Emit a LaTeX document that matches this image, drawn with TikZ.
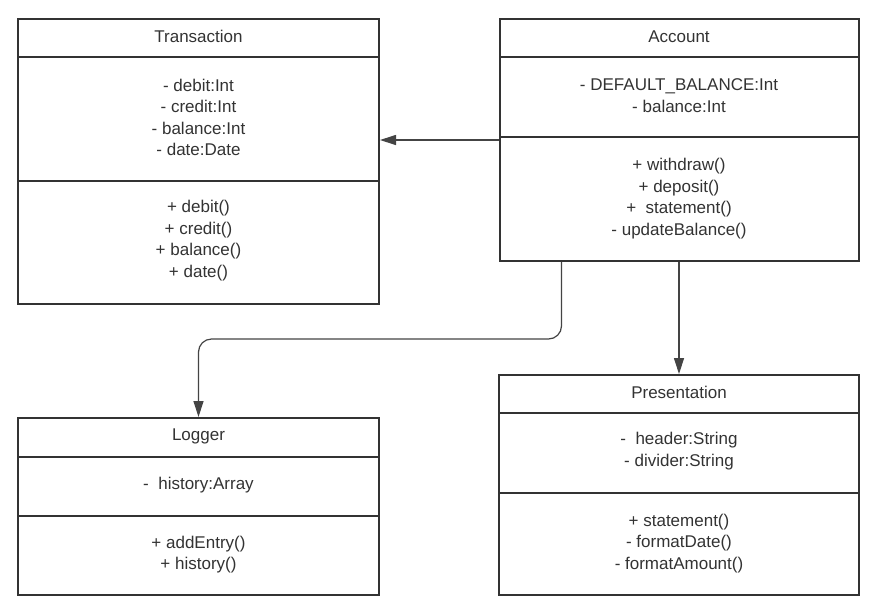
\documentclass[tikz,border=0pt]{standalone}
\usepackage{fontspec}
\setmainfont{Liberation Sans}
\usetikzlibrary{arrows.meta}
\definecolor{ink}{HTML}{333333}
\definecolor{wire}{HTML}{444444}
\tikzset{
  classbox/.style={draw=ink, line width=2pt, fill=white, inner sep=0pt},
  divider/.style={draw=ink, line width=2pt},
  member/.style={text=ink, align=center, inner sep=0pt,
    font=\fontsize{17}{21.6}\selectfont},
  classname/.style={member},
  link/.style={draw=wire, line width=1.2pt,
    -{Triangle[length=16pt,width=10pt]}},
}
\begin{document}
\begin{tikzpicture}[x=1pt,y=-1pt]
\useasboundingbox[fill=white] (0,0) rectangle (882,614);

% --- Transaction ---
\node[classbox, minimum width=361pt, minimum height=285pt] (trans) at (198.5,161) {};
\draw[divider] (18,57) -- (379,57);
\draw[divider] (18,181) -- (379,181);
\node[classname] (transT) at (198.5,36.5) {Transaction};
\node[member] (transA) at (198.5,117.5) {- debit:Int\\- credit:Int\\- balance:Int\\- date:Date};
\node[member] (transM) at (198.5,240.5) {+ debit()\\+ credit()\\+ balance()\\+ date()};

% --- Account ---
\node[classbox, minimum width=359pt, minimum height=242pt] (acc) at (679,140) {};
\draw[divider] (499.5,57) -- (858.5,57);
\draw[divider] (499.5,136.5) -- (858.5,136.5);
\node[classname] (accT) at (679,36.5) {Account};
\node[member] (accA) at (679,95.5) {- DEFAULT\_BALANCE:Int\\- balance:Int};
\node[member] (accM) at (679,198.5) {+ withdraw()\\+ deposit()\\+\ \ statement()\\- updateBalance()};

% --- Logger ---
\node[classbox, minimum width=361pt, minimum height=177pt] (log) at (198.5,506.5) {};
\draw[divider] (18,457) -- (379,457);
\draw[divider] (18,516) -- (379,516);
\node[classname] (logT) at (198.5,436.5) {Logger};
\node[member] (logA) at (198.5,485) {-\ \ history:Array};
\node[member] (logM) at (198.5,554.5) {+ addEntry()\\+ history()};

% --- Presentation ---
\node[classbox, minimum width=360pt, minimum height=220pt] (pres) at (679,485) {};
\draw[divider] (499,413) -- (859,413);
\draw[divider] (499,493) -- (859,493);
\node[classname] (presT) at (679,392.5) {Presentation};
\node[member] (presA) at (679,451) {-\ \ header:String\\- divider:String};
\node[member] (presM) at (679,543.5) {+ statement()\\- formatDate()\\- formatAmount()};

% --- Associations ---
\draw[link] (acc.west) -- (acc.west -| trans.east);
\coordinate (accOut) at ([xshift=63pt]acc.south west);
\coordinate (bend) at (0,339);
\draw[link, rounded corners=13pt] (accOut) -- (accOut |- bend) -- (log.north |- bend) -- (log.north);
\draw[link] (acc.south) -- (pres.north);
\end{tikzpicture}
\end{document}
